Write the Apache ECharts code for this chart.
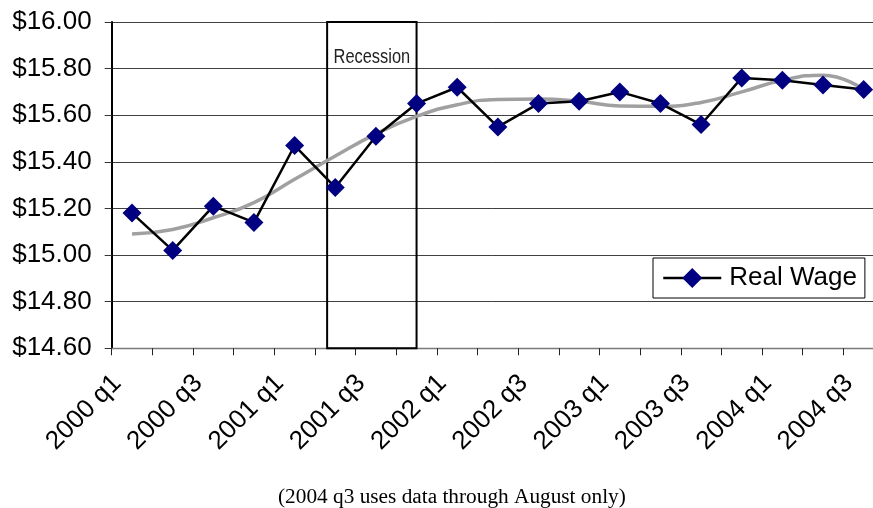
<!DOCTYPE html>
<html>
<head>
<meta charset="utf-8">
<script src="https://cdn.jsdelivr.net/npm/echarts@6/dist/echarts.min.js"></script>
<style>
  html, body { margin: 0; padding: 0; background: #fff; }
  #chart { width: 873px; height: 508px; }
</style>
</head>
<body>
<div id="chart"></div>
<script>
// Quarterly real wage, 2000 q1 – 2004 q3
const quarters = [
  '2000 q1', '2000 q2', '2000 q3', '2000 q4',
  '2001 q1', '2001 q2', '2001 q3', '2001 q4',
  '2002 q1', '2002 q2', '2002 q3', '2002 q4',
  '2003 q1', '2003 q2', '2003 q3', '2003 q4',
  '2004 q1', '2004 q2', '2004 q3'
];
const realWage = [
  15.18, 15.02, 15.21, 15.14,
  15.47, 15.29, 15.51, 15.65,
  15.72, 15.55, 15.65, 15.66,
  15.70, 15.65, 15.56, 15.76,
  15.75, 15.73, 15.71
];
// Smoothed trend of the same series
const wageTrend = [
  15.09, 15.11, 15.16, 15.225,
  15.325, 15.425, 15.52, 15.595,
  15.645, 15.668, 15.67, 15.66,
  15.64, 15.638, 15.655, 15.70,
  15.75, 15.772, 15.71
];
// Value axis range and step
const yRange = [14.6, 16.0];
const yStep = 0.2;
// Recession span, in quarters elapsed since the start of 2000
const recessionBounds = [5.3, 7.5];
const recessionLabel = 'Recession';
const footnote = '(2004 q3 uses data through August only)';

const sans = '"Liberation Sans", Arial, sans-serif';

const chart = echarts.init(document.getElementById('chart'), null, { renderer: 'canvas' });

chart.setOption({
  animation: false,
  backgroundColor: '#fff',
  grid: {
    left: 111.7,
    top: 22,
    right: -11,
    bottom: 159.7,
    containLabel: false,
    outerBoundsMode: 'none'
  },
  legend: {
    data: ['Real Wage'],
    left: 653,
    top: 258,
    orient: 'horizontal',
    padding: [7, 8, 7, 9],
    itemWidth: 58,
    itemHeight: 25,
    borderColor: '#000',
    borderWidth: 1,
    backgroundColor: '#fff',
    lineStyle: { width: 2.5 },
    textStyle: { fontFamily: sans, fontSize: 26, color: '#000', padding: [0, 0, 0, 3] }
  },
  xAxis: [
    {
      type: 'category',
      data: quarters,
      boundaryGap: true,
      axisLine: { show: true, lineStyle: { color: '#7a7a7a', width: 1.3 } },
      axisTick: { show: true, interval: 0, length: 7, lineStyle: { color: '#222', width: 1 } },
      axisLabel: {
        interval: 1,
        rotate: 45,
        margin: 16,
        padding: [0, 21, 0, 0],
        fontFamily: sans,
        fontSize: 26,
        color: '#000'
      },
      splitLine: { show: false }
    },
    {
      type: 'value',
      min: 0,
      max: quarters.length,
      show: false
    }
  ],
  yAxis: {
    type: 'value',
    min: yRange[0],
    max: yRange[1],
    interval: yStep,
    axisLine: { show: true, lineStyle: { color: '#000', width: 2 } },
    axisTick: { show: true, length: 7, lineStyle: { color: '#333', width: 1 } },
    axisLabel: {
      margin: 20,
      fontFamily: sans,
      fontSize: 26,
      color: '#000',
      formatter: v => '$' + v.toFixed(2)
    },
    splitLine: { show: true, lineStyle: { color: '#404040', width: 1 } }
  },
  series: [
    {
      name: 'Recession',
      type: 'line',
      xAxisIndex: 1,
      data: [],
      silent: true,
      markArea: {
        silent: true,
        itemStyle: { color: 'rgba(0,0,0,0)', borderColor: '#000', borderWidth: 2 },
        label: { show: false },
        data: [[
          { xAxis: recessionBounds[0], yAxis: yRange[1] },
          { xAxis: recessionBounds[1], yAxis: yRange[0] }
        ]]
      }
    },
    {
      name: 'Trend',
      type: 'line',
      data: wageTrend,
      smooth: 0.5,
      showSymbol: false,
      symbol: 'none',
      lineStyle: { color: '#a0a0a0', width: 3.5 },
      z: 3
    },
    {
      name: 'Real Wage',
      type: 'line',
      data: realWage,
      symbol: 'diamond',
      symbolSize: 19,
      itemStyle: { color: '#000080' },
      lineStyle: { color: '#000', width: 2.5 },
      z: 4
    }
  ]
});

// Condensed "Recession" caption centred in the shaded span, near its top
const spanLeft = chart.convertToPixel({ xAxisIndex: 1 }, recessionBounds[0]);
const spanRight = chart.convertToPixel({ xAxisIndex: 1 }, recessionBounds[1]);
const spanTop = chart.convertToPixel({ yAxisIndex: 0 }, yRange[1]);

chart.setOption({
  graphic: [
    {
      type: 'text',
      x: (spanLeft + spanRight) / 2,
      y: spanTop + 35,
      scaleX: 0.82,
      silent: true,
      style: {
        text: recessionLabel,
        x: 0,
        y: 0,
        align: 'center',
        verticalAlign: 'middle',
        fontFamily: sans,
        fontSize: 20,
        fill: '#222'
      }
    },
    {
      type: 'text',
      left: 278,
      top: 487,
      silent: true,
      style: {
        text: footnote,
        fontFamily: '"Liberation Serif", "Times New Roman", serif',
        fontSize: 21.3,
        fill: '#000'
      }
    }
  ]
});
</script>
</body>
</html>
